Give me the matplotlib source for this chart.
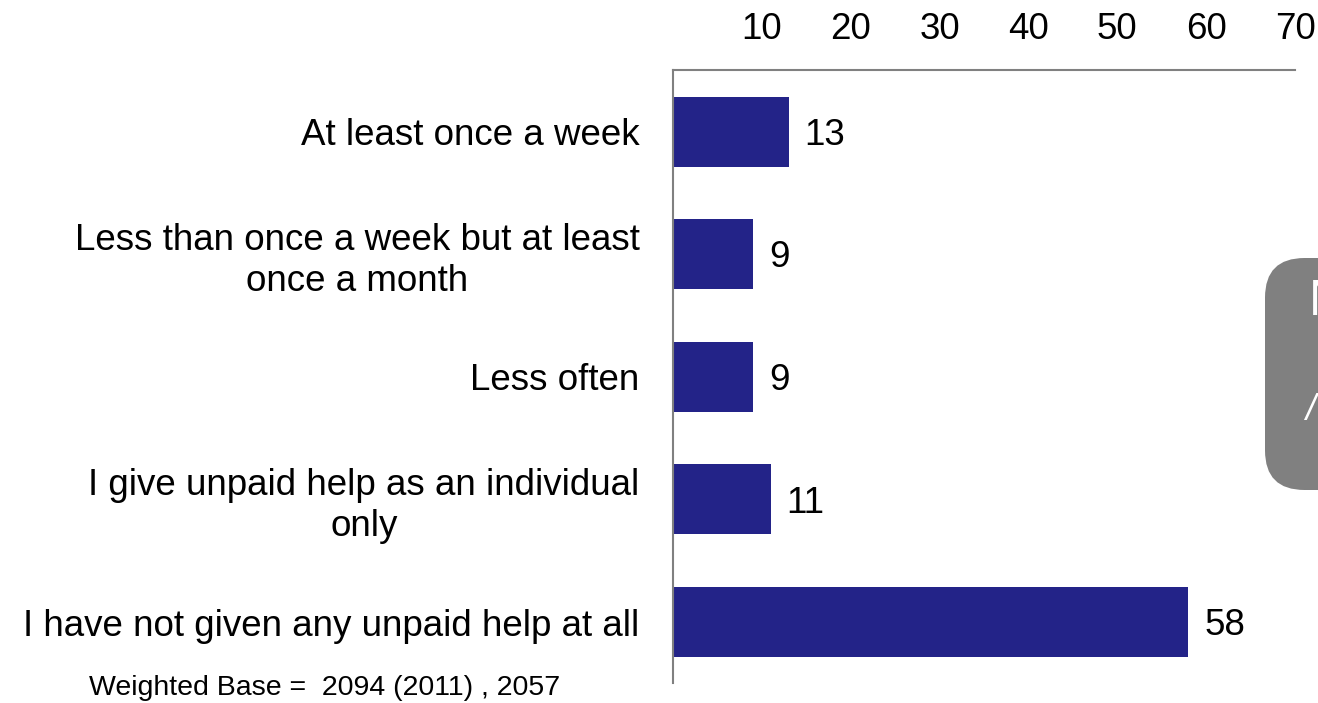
import matplotlib.pyplot as plt
from matplotlib.patches import FancyBboxPatch

plt.rcParams['font.family'] = ['Liberation Sans', 'DejaVu Sans']

# unpaid help frequency, % of respondents
categories = ['At least once a week',
              'Less than once a week but at least\nonce a month',
              'Less often',
              'I give unpaid help as an individual\nonly',
              'I have not given any unpaid help at all']
values = [13, 9, 9, 11, 58]
ticks = [10, 20, 30, 40, 50, 60, 70]
bar_color = '#232388'
spine_color = '#808080'

fig = plt.figure(figsize=(13.18, 7.03), dpi=100)
ax = fig.add_axes([0.5106, 0.028, 0.4720, 0.872])

pos = list(range(len(categories)))
ax.barh(pos, values, height=0.57, color=bar_color)
for p, v in zip(pos, values):
    ax.text(v + 1.8, p + 0.03, str(v), va='center', ha='left', fontsize=26.5)

ax.set_xlim(0, 70)
ax.set_ylim(len(categories) - 0.5, -0.5)
ax.xaxis.tick_top()
ax.set_xticks(ticks)
ax.set_xticklabels([str(t) for t in ticks], fontsize=26.5)
ax.tick_params(axis='x', length=0, pad=17)
ax.set_yticks(pos)
ax.set_yticklabels(categories, fontsize=26.5, multialignment='center',
                   linespacing=1.22)
ax.tick_params(axis='y', length=0, pad=24)

for s in ['right', 'bottom']:
    ax.spines[s].set_visible(False)
for s in ['top', 'left']:
    ax.spines[s].set_color(spine_color)
    ax.spines[s].set_linewidth(1.5)

# grey note box on the right, running off the page
box = FancyBboxPatch((1265 / 1318, 1 - 490 / 703), 0.1, 232 / 703,
                     boxstyle='round,pad=0,rounding_size=0.03',
                     transform=fig.transFigure, facecolor='#808080',
                     edgecolor='none', mutation_aspect=1318 / 703)
fig.patches.append(box)
fig.text(1309 / 1318, 1 - 302 / 703, 'N', color='white', fontsize=36,
         va='center', ha='left')
fig.text(1305 / 1318, 1 - 410 / 703, '/', color='white', fontsize=26,
         style='italic', va='center', ha='left')

fig.text(89 / 1318, 1 - 688 / 703, 'Weighted Base =  2094 (2011) , 2057',
         fontsize=20.5, va='center', ha='left')

fig.savefig('out.png', dpi=100)
